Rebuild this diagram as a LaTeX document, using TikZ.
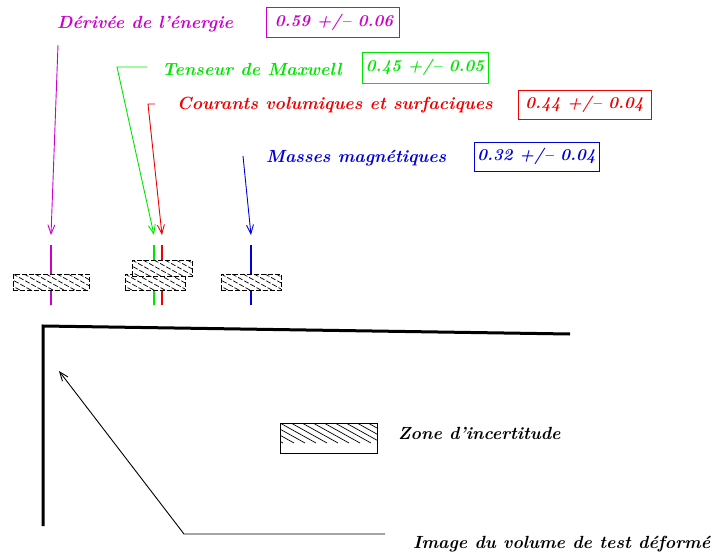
\documentclass[tikz,border=0pt]{standalone}
\usepackage{tikz}
\usetikzlibrary{arrows.meta,calc}

\definecolor{derivcol}{RGB}{204,0,204}
\definecolor{tenscol}{RGB}{0,230,0}
\definecolor{courcol}{RGB}{240,0,0}
\definecolor{massecol}{RGB}{0,0,220}

\begin{document}
\begin{tikzpicture}[x=1pt,y=-1pt,
  lbl/.style={anchor=west,inner sep=0pt,font=\fontsize{17.6}{20}\selectfont\bfseries\itshape},
  valbox/.style={draw,line width=0.9pt,inner sep=0pt,font=\fontsize{16.5}{20}\selectfont\bfseries\itshape},
  leader/.style={line width=0.9pt,-{Straight Barb[length=9pt,width=7pt]}},
  stem/.style={line width=1.2pt},
  hatched/.style={draw,fill=white,inner sep=0pt,line width=0.7pt,
    path picture={
      \foreach \k in {-4,...,12}
        \draw[line width=0.7pt] ($(path picture bounding box.north west)+(\k*11,0)$) -- ++(36,20);
    }},
  zonebox/.style={hatched,dash pattern=on 5pt off 2pt}
]
  \useasboundingbox (0,0) rectangle (714,554);

  % labels and values
  \node[lbl,text=derivcol] (deriv) at (57,24) {Dérivée de l’énergie};
  \node[valbox,draw=derivcol,text=derivcol,minimum width=133,minimum height=30] (derivval) at (332.5,22) {\hspace{3pt}0.59 +/-- 0.06};
  \node[lbl,text=tenscol] (tens) at (162,69) {Tenseur de Maxwell};
  \node[valbox,draw=tenscol,text=tenscol,minimum width=126,minimum height=31] (tensval) at (425,67.5) {0.45 +/-- 0.05};
  \node[lbl,text=courcol] (cour) at (177,105) {Courants volumiques et surfaciques};
  \node[valbox,draw=courcol,text=courcol,minimum width=133,minimum height=29] (courval) at (584.5,104.5) {0.44 +/-- 0.04};
  \node[lbl,text=massecol] (masse) at (266,158) {Masses magnétiques};
  \node[valbox,draw=massecol,text=massecol,minimum width=125,minimum height=29] (masseval) at (536.5,156.5) {0.32 +/-- 0.04};

  % leaders
  \coordinate (dStart) at (58,45);
  \coordinate (dTip) at (51,235);
  \coordinate (gStart) at (147,67);
  \coordinate (gBend) at (117,67);
  \coordinate (gTip) at (154,235);
  \coordinate (rStart) at (155,104);
  \coordinate (rBend) at (148,104);
  \coordinate (rTip) at (162,235);
  \coordinate (bStart) at (243,156);
  \coordinate (bTip) at (251,235);
  \draw[leader,derivcol] (dStart) -- (dTip);
  \draw[leader,tenscol] (gStart) -- (gBend) -- (gTip);
  \draw[leader,courcol] (rStart) -- (rBend) -- (rTip);
  \draw[leader,massecol] (bStart) -- (bTip);

  % stems through the zones
  \draw[stem,draw=derivcol] (51,245) -- (51,305);
  \draw[stem,draw=tenscol] (154,245) -- (154,305);
  \draw[stem,draw=courcol] (162,245) -- (162,305);
  \draw[stem,draw=massecol] (251,245) -- (251,305);

  % zones
  \node[zonebox,minimum width=76,minimum height=16] (zderiv) at (51,282) {};
  \node[zonebox,minimum width=60,minimum height=16] (zcour) at (155,282) {};
  \node[zonebox,minimum width=60,minimum height=16] (ztens) at (162,268) {};
  \node[zonebox,minimum width=60,minimum height=16] (zmasse) at (251,282) {};

  % deformed test volume
  \draw[line width=3pt] (43,526) -- (43,326) -- (570,334);
  \coordinate (iStart) at (385,534);
  \coordinate (iBend) at (184,534);
  \coordinate (iTip) at (59,371);
  \draw[leader,black] (iStart) -- (iBend) -- (iTip);

  % legend
  \node[hatched,minimum width=97,minimum height=30] (legend) at (328.5,438) {};
  \node[lbl] (zone) at (398,433) {Zone d’incertitude};
  \node[lbl] (image) at (413,544) {Image du volume de test déformé};
\end{tikzpicture}
\end{document}
